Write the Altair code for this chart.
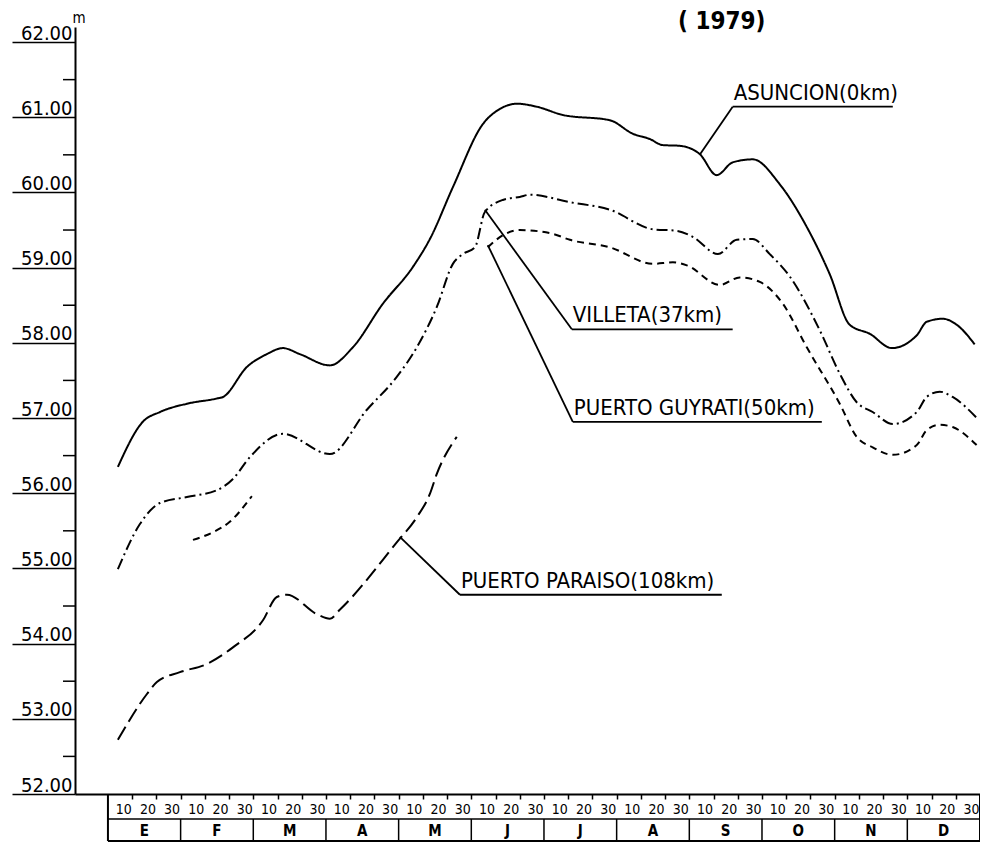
import altair as alt
import pandas as pd

# ---------------- data (day of year on a 30-day-month axis, level in m) ----------------
series_names = ["ASUNCION", "VILLETA", "PUERTO GUYRATI", "PUERTO PARAISO"]

asu_day = [4.1, 14.4, 21.5, 32.6, 45.0, 47.5, 57.4, 65.6, 72.2, 79.2, 91.6, 101.1, 113.5,
           125.9, 132.9, 142.4, 154.8, 161.8, 168.8, 177.0, 187.8, 207.2, 216.7, 223.7,
           229.0, 236.0, 244.3, 251.3, 257.9, 266.2, 277.3, 288.5, 298.0, 306.2, 314.5,
           323.6, 333.9, 338.0, 344.6, 350.4, 357.8]
asu_lvl = [56.35, 56.95, 57.08, 57.19, 57.26, 57.28, 57.68, 57.85, 57.93, 57.85, 57.70, 57.94,
           58.52, 59.01, 59.38, 60.07, 60.91, 61.11, 61.18, 61.14, 61.03, 60.96, 60.78, 60.71,
           60.63, 60.62, 60.51, 60.23, 60.40, 60.44, 60.11, 59.54, 58.91, 58.24, 58.12, 57.93,
           58.10, 58.28, 58.32, 58.24, 57.98]

vil_day = [4.1, 13.2, 21.5, 32.6, 45.0, 51.6, 58.6, 72.2, 91.6, 106.9, 119.3, 127.5, 135.8,
           142.4, 146.5, 151.5, 155.6, 163.0, 170.0, 174.2, 190.7, 207.2, 225.0, 234.8, 241.4,
           251.8, 259.6, 266.2, 273.2, 281.5, 293.8, 302.1, 309.1, 315.7, 324.0, 333.9, 338.0,
           343.4, 348.7, 359.0]
vil_lvl = [54.99, 55.59, 55.87, 55.95, 56.04, 56.19, 56.48, 56.79, 56.52, 57.11, 57.55, 57.94,
           58.48, 59.05, 59.18, 59.27, 59.74, 59.90, 59.94, 59.97, 59.87, 59.77, 59.51, 59.49,
           59.41, 59.18, 59.37, 59.38, 59.18, 58.88, 58.17, 57.59, 57.21, 57.08, 56.92, 57.08,
           57.28, 57.35, 57.28, 56.99]

guy1_day = [35.1, 43.3, 50.3, 59.4]
guy1_lvl = [55.38, 55.48, 55.62, 55.96]
guy2_day = [156.8, 163.0, 170.0, 183.6, 190.7, 207.2, 225.0, 233.2, 239.0, 252.6, 260.8, 269.1,
            278.6, 288.5, 302.1, 309.1, 315.7, 324.0, 333.9, 338.0, 343.4, 348.7, 358.6]
guy2_lvl = [59.27, 59.43, 59.50, 59.45, 59.37, 59.27, 59.05, 59.07, 59.03, 58.77, 58.87, 58.81,
            58.52, 57.94, 57.19, 56.75, 56.61, 56.51, 56.64, 56.84, 56.91, 56.88, 56.64]

par_day = [4.1, 16.1, 20.2, 29.7, 40.9, 51.6, 64.0, 69.7, 73.9, 86.3, 91.6, 95.7, 119.3,
           127.5, 132.9, 135.8, 144.0]
par_lvl = [52.72, 53.33, 53.49, 53.62, 53.73, 53.95, 54.31, 54.62, 54.65, 54.39, 54.33, 54.45,
           55.35, 55.68, 55.99, 56.26, 56.75]

months = ["E", "F", "M", "A", "M", "J", "J", "A", "S", "O", "N", "D"]
y_major = [52 + i for i in range(11)]
y_minor = [52.5 + i for i in range(10)]
day_ticks = list(range(10, 361, 10))

ann_label = ["ASUNCION(0km)", "VILLETA(37km)", "PUERTO GUYRATI(50km)", "PUERTO PARAISO(108km)"]
ann_from_day = [244.3, 155.6, 156.8, 120.5]
ann_from_lvl = [60.50, 59.77, 59.30, 55.42]
ann_to_day = [257.9, 191.5, 191.9, 145.3]
ann_to_lvl = [61.14, 58.18, 56.95, 54.65]
ann_end_day = [324.0, 257.9, 294.7, 253.4]

title_text = ["( 1979)"]
title_day = [253.4]
title_lvl = [62.26]
unit_text = ["m"]

# ---------------- tables ----------------
rows = []
for name, seg, d, v in [("ASUNCION", "a", asu_day, asu_lvl),
                        ("VILLETA", "v", vil_day, vil_lvl),
                        ("PUERTO GUYRATI", "g1", guy1_day, guy1_lvl),
                        ("PUERTO GUYRATI", "g2", guy2_day, guy2_lvl),
                        ("PUERTO PARAISO", "p", par_day, par_lvl)]:
    for dd, vv in zip(d, v):
        rows.append({"series": name, "seg": seg, "day": dd, "level": vv})
lines_df = pd.DataFrame(rows)

outer_df = pd.DataFrame({"day": [0, 360]})
inner_df = pd.DataFrame({"day": [30 * i for i in range(1, 12)]})
hline_df = pd.DataFrame({"day": [0], "day2": [360]})
month_df = pd.DataFrame({"month": months, "day": [15 + 30 * i for i in range(12)]})
minor_df = pd.DataFrame({"level": y_minor})
ann_df = pd.DataFrame({"label": ann_label, "day": ann_from_day, "level": ann_from_lvl,
                       "day2": ann_to_day, "level2": ann_to_lvl, "dayend": ann_end_day})
title_df = pd.DataFrame({"t": title_text, "day": title_day, "level": title_lvl})
unit_df = pd.DataFrame({"t": unit_text})

# ---------------- styling ----------------
FONT = "DejaVu Sans Condensed, Liberation Sans Narrow, DejaVu Sans, sans-serif"
W, H = 905, 767
R1, R2 = 25, 47

xscale = alt.Scale(domain=[-13.6, 360], nice=False, zero=False)
yscale = alt.Scale(domain=[52, 62.2], nice=False, zero=False)

xaxis = alt.Axis(values=day_ticks,
                 labelExpr="datum.value % 30 === 0 ? '30' : '' + (datum.value % 30)",
                 tickSize=5, tickColor="black", tickWidth=1.5,
                 domainColor="black", domainWidth=2,
                 labelFont=FONT, labelFontSize=14, labelColor="black",
                 labelOffset=-9, labelPadding=3, labelBaseline="top",
                 labelFlush=False, labelOverlap=False, labelBound=False,
                 labelSeparation=0, grid=False, title=None)

yaxis = alt.Axis(values=y_major, format=".2f",
                 tickSize=63, tickColor="black", tickWidth=1.5,
                 domainColor="black", domainWidth=2,
                 labelFont=FONT, labelFontSize=20, labelColor="black",
                 labelAlign="right", labelBaseline="alphabetic",
                 labelPadding=-60, labelOffset=-3,
                 labelFlush=False, labelOverlap=False, grid=False, title=None)

X = alt.X("day:Q", scale=xscale, axis=xaxis)
Y = alt.Y("level:Q", scale=yscale, axis=yaxis)
X2 = alt.X("day2:Q", scale=xscale, axis=xaxis)
Y2 = alt.Y("level2:Q", scale=yscale, axis=yaxis)

lines = alt.Chart(lines_df).mark_line(interpolate="monotone", strokeWidth=2, color="black").encode(
    x=X, y=Y,
    strokeDash=alt.StrokeDash("series:N",
                              scale=alt.Scale(domain=series_names,
                                              range=[[1, 0], [11, 4, 2, 4], [7, 5], [15, 6]]),
                              legend=None),
    detail="seg:N",
    order="day:Q",
)

minor = alt.Chart(minor_df).mark_rule(color="black", strokeWidth=1.5).encode(
    y=Y, x=alt.value(-12), x2=alt.value(0))
outer = alt.Chart(outer_df).mark_rule(color="black", strokeWidth=2).encode(
    x=X, y=alt.value(H), y2=alt.value(H + R2))
inner = alt.Chart(inner_df).mark_rule(color="black", strokeWidth=1.5).encode(
    x=X, y=alt.value(H + R1), y2=alt.value(H + R2))
hmid = alt.Chart(hline_df).mark_rule(color="black", strokeWidth=1.5).encode(
    x=X, x2="day2:Q", y=alt.value(H + R1))
hbot = alt.Chart(hline_df).mark_rule(color="black", strokeWidth=2).encode(
    x=X, x2="day2:Q", y=alt.value(H + R2))
mtext = alt.Chart(month_df).mark_text(font=FONT, fontSize=15, fontWeight="bold",
                                      color="black", baseline="middle").encode(
    x=X, y=alt.value(H + (R1 + R2) / 2 + 1), text="month:N")

leader = alt.Chart(ann_df).mark_rule(color="black", strokeWidth=1.8).encode(
    x=X, y=Y, x2="day2:Q", y2="level2:Q")
underline = alt.Chart(ann_df).mark_rule(color="black", strokeWidth=1.8).encode(
    x=X2, x2="dayend:Q", y=Y2)
atext = alt.Chart(ann_df).mark_text(font=FONT, fontSize=22, color="black", align="left",
                                    baseline="bottom", dx=1, dy=-2).encode(
    x=X2, y=Y2, text="label:N")
ttext = alt.Chart(title_df).mark_text(font=FONT, fontSize=24, fontWeight="bold", color="black",
                                      baseline="middle").encode(
    x=X, y=Y, text="t:N")
utext = alt.Chart(unit_df).mark_text(font=FONT, fontSize=15, color="black",
                                     baseline="middle").encode(
    x=alt.value(4), y=alt.value(-9), text="t:N")

chart = alt.layer(lines, minor, outer, inner, hmid, hbot, mtext, leader, underline,
                  atext, ttext, utext).properties(
    width=W, height=H,
    autosize=alt.AutoSizeParams(type="none"),
    padding={"left": 67, "top": 19, "right": 0, "bottom": 49},
    background="white",
).configure_view(stroke=None)

chart.save("out.html", embed_options={"renderer": "svg", "actions": False})
